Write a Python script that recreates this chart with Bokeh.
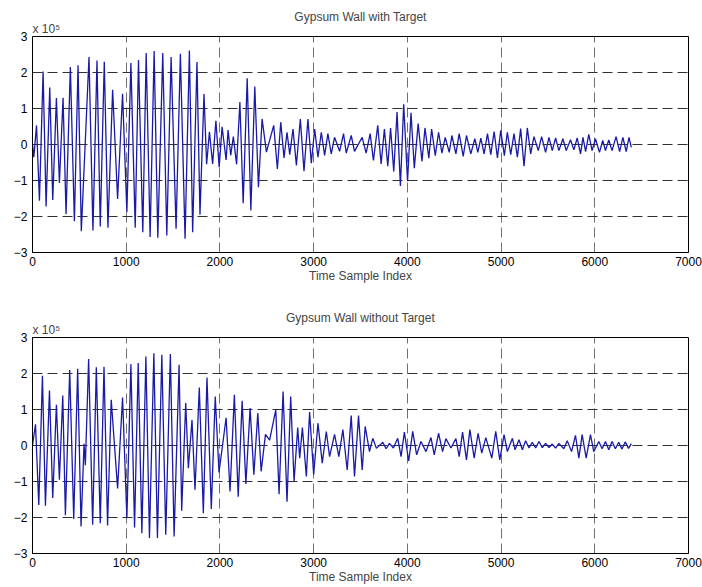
from bokeh.plotting import figure
from bokeh.layouts import column
from bokeh.models import FixedTicker, Range1d, Title
from bokeh.embed import file_html
from bokeh.resources import INLINE

# Extrema (sample index, amplitude in units of 1e5)
top_idx = [0, 14, 43, 74, 113, 145, 184, 216, 255, 287, 326, 358, 404, 447, 486, 521, 603, 645, 688, 723,
           766, 805, 855, 908, 961, 1007, 1050, 1096, 1131, 1177, 1213, 1255, 1298, 1337, 1390, 1433, 1479, 1532, 1578, 1628,
           1674, 1709, 1755, 1787, 1830, 1858, 1888, 1922, 1957, 1992, 2023, 2066, 2087, 2115, 2143, 2178, 2213, 2248, 2291, 2330,
           2372, 2411, 2450, 2496, 2574, 2613, 2649, 2684, 2716, 2745, 2780, 2816, 2858, 2897, 2939, 2975, 3011, 3046, 3082, 3117,
           3152, 3188, 3223, 3277, 3319, 3348, 3401, 3436, 3518, 3560, 3603, 3638, 3684, 3720, 3755, 3791, 3821, 3855, 3890, 3926,
           3961, 4002, 4039, 4074, 4115, 4156, 4188, 4229, 4259, 4298, 4333, 4369, 4404, 4447, 4475, 4518, 4553, 4596, 4631, 4677,
           4720, 4752, 4784, 4819, 4855, 4890, 4926, 4961, 4996, 5035, 5067, 5103, 5138, 5174, 5209, 5245, 5280, 5316, 5351, 5397,
           5433, 5475, 5511, 5546, 5582, 5617, 5660, 5695, 5741, 5777, 5812, 5848, 5874, 5902, 5936, 5971, 6007, 6050, 6085, 6114,
           6149, 6184, 6227, 6265, 6300, 6335, 6365, 6390]
top_val = [0.0, -0.35, 0.53, -1.56, 2.03, -1.72, 1.58, -1.54, 1.29, -1.07, 1.30, -1.93, 2.15, -2.13, 2.20, -2.41, 2.43, -2.39, 2.33, -2.28,
           2.30, -2.31, 1.52, -1.51, 1.41, -1.88, 2.26, -2.31, 2.35, -2.44, 2.54, -2.57, 2.60, -2.59, 2.54, -2.53, 2.43, -2.34, 2.52, -2.62,
           2.61, -2.44, 2.29, -1.95, 1.40, -0.55, 0.35, -0.54, 0.66, -0.63, 0.49, -0.43, 0.40, -0.30, 0.22, -0.55, 1.18, -1.63, 1.84, -1.83,
           1.61, -1.19, 0.71, -0.21, 0.53, -0.68, 0.62, -0.37, 0.34, -0.28, 0.43, -0.58, 0.71, -0.74, 0.71, -0.52, 0.43, -0.35, 0.34, -0.30,
           0.30, -0.26, 0.20, -0.19, 0.30, -0.24, 0.25, -0.19, 0.20, -0.24, 0.30, -0.44, 0.53, -0.54, 0.43, -0.60, 0.46, -0.75, 0.90, -1.15,
           1.12, -1.02, 0.88, -0.66, 0.58, -0.47, 0.46, -0.38, 0.43, -0.31, 0.34, -0.24, 0.20, -0.22, 0.25, -0.26, 0.30, -0.33, 0.25, -0.26,
           0.16, -0.22, 0.18, -0.26, 0.30, -0.28, 0.36, -0.37, 0.39, -0.31, 0.34, -0.28, 0.30, -0.35, 0.44, -0.60, 0.46, -0.26, 0.22, -0.17,
           0.22, -0.22, 0.20, -0.17, 0.18, -0.17, 0.16, -0.17, 0.13, -0.15, 0.18, -0.26, 0.20, -0.20, 0.28, -0.17, 0.16, -0.22, 0.11, -0.17,
           0.13, -0.17, 0.22, -0.20, 0.20, -0.20, 0.20, -0.08]

bot_idx = [0, 32, 67, 106, 138, 181, 216, 255, 287, 323, 351, 397, 440, 482, 518, 550, 564, 599, 642, 681,
           723, 763, 801, 840, 908, 961, 1007, 1050, 1089, 1128, 1167, 1210, 1248, 1295, 1333, 1380, 1422, 1471, 1511, 1564,
           1592, 1635, 1663, 1702, 1734, 1780, 1823, 1862, 1908, 1950, 1990, 2066, 2108, 2154, 2195, 2237, 2277, 2322, 2362, 2404,
           2440, 2486, 2530, 2596, 2631, 2674, 2716, 2755, 2791, 2830, 2851, 2880, 2922, 2957, 3000, 3046, 3092, 3135, 3170, 3223,
           3269, 3312, 3358, 3401, 3436, 3479, 3518, 3550, 3596, 3631, 3670, 3738, 3773, 3809, 3851, 3897, 3933, 3968, 4014, 4057,
           4099, 4145, 4199, 4252, 4287, 4333, 4376, 4411, 4465, 4518, 4553, 4589, 4631, 4667, 4713, 4755, 4794, 4837, 4901, 4943,
           4986, 5032, 5067, 5121, 5149, 5191, 5227, 5262, 5298, 5333, 5369, 5404, 5440, 5475, 5511, 5546, 5582, 5617, 5670, 5706,
           5752, 5794, 5830, 5865, 5908, 5954, 5989, 6043, 6078, 6114, 6149, 6184, 6220, 6255, 6290, 6325, 6360, 6390]
bot_val = [0.0, 0.59, -1.65, 1.94, -1.67, 1.53, -1.46, 1.13, -0.95, 1.39, -1.94, 2.10, -2.04, 2.13, -2.25, 0.05, -0.55, 2.40, -2.20, 2.17,
           -2.16, 2.19, -2.22, 1.27, -1.19, 1.33, -2.02, 2.26, -2.28, 2.29, -2.44, 2.47, -2.57, 2.56, -2.57, 2.52, -2.48, 2.54, -2.53, 2.24,
           -1.81, 1.18, -0.63, 0.71, -1.23, 1.61, -1.88, 1.89, -1.76, 1.36, -0.75, 0.77, -1.28, 1.41, -1.42, 1.24, -1.07, 1.04, -0.81, 0.90,
           -0.72, 0.31, 0.15, 0.99, -1.35, 1.50, -1.56, 1.36, -1.00, 0.50, -0.35, 0.50, -0.86, 0.93, -0.81, 0.62, -0.49, 0.39, -0.31, 0.31,
           -0.31, 0.44, -0.68, 0.83, -0.86, 0.83, -0.68, 0.53, -0.17, 0.20, -0.08, 0.09, -0.09, 0.06, -0.07, 0.20, -0.31, 0.37, -0.43, 0.39,
           -0.26, 0.11, -0.17, 0.22, -0.26, 0.34, -0.17, 0.19, -0.07, 0.19, -0.31, 0.37, -0.40, 0.44, -0.35, 0.34, -0.21, 0.22, -0.35, 0.39,
           -0.40, 0.30, -0.17, 0.20, -0.12, 0.16, -0.12, 0.13, -0.07, 0.09, -0.07, 0.11, -0.06, 0.06, -0.06, 0.04, -0.07, 0.06, -0.09, 0.13,
           -0.17, 0.28, -0.35, 0.30, -0.35, 0.30, -0.17, 0.11, -0.09, 0.11, -0.12, 0.11, -0.09, 0.09, -0.10, 0.10, -0.08, 0.05]

x_ticks = [0, 1000, 2000, 3000, 4000, 5000, 6000, 7000]
y_ticks = [-3, -2, -1, 0, 1, 2, 3]
titles = ["Gypsum Wall with Target", "Gypsum Wall without Target"]
scale_label = "x 10\u2075"
xlabel = "Time Sample Index"
FONT = "Liberation Sans"
LINE = "#1a1aa8"


def make_panel(title, xs, ys, h, top_border, bottom_border):
    p = figure(width=702, height=h, output_backend="svg", toolbar_location=None,
               x_range=Range1d(0, 7000), y_range=Range1d(-3, 3),
               min_border_left=32, min_border_right=14,
               min_border_top=top_border, min_border_bottom=bottom_border)
    # exponent label (closest to the frame), then the centred title
    p.add_layout(Title(text=scale_label, align="left", text_font=FONT, text_font_size="12px",
                       text_font_style="normal", standoff=2), "above")
    p.add_layout(Title(text=title, align="center", text_font=FONT, text_font_size="12px",
                       text_font_style="normal", standoff=-11), "above")
    p.outline_line_color = "black"
    p.outline_line_alpha = 1
    p.background_fill_color = "white"
    p.border_fill_color = "white"

    for ax in (p.xaxis[0], p.yaxis[0]):
        ax.axis_line_color = "black"
        ax.major_tick_in = 0
        ax.major_tick_out = 0
        ax.minor_tick_line_color = None
        ax.major_label_text_font = FONT
        ax.major_label_text_font_size = "12px"
        ax.major_label_text_color = "black"
    p.xaxis[0].ticker = FixedTicker(ticks=x_ticks)
    p.yaxis[0].ticker = FixedTicker(ticks=y_ticks)
    p.xaxis[0].major_label_standoff = 4
    p.yaxis[0].major_label_standoff = 5
    p.xaxis[0].axis_label = xlabel
    p.xaxis[0].axis_label_text_font = FONT
    p.xaxis[0].axis_label_text_font_size = "12px"
    p.xaxis[0].axis_label_text_font_style = "normal"
    p.xaxis[0].axis_label_standoff = 0

    p.xgrid.ticker = FixedTicker(ticks=x_ticks)
    p.ygrid.ticker = FixedTicker(ticks=y_ticks)
    p.xgrid.grid_line_color = "#707070"
    p.xgrid.grid_line_dash = "10 5"
    p.ygrid.grid_line_color = "#303030"
    p.ygrid.grid_line_dash = "10 5"

    p.line(xs, ys, line_color=LINE, line_width=1.3)
    return p


p1 = make_panel(titles[0], top_idx, top_val, 290, 36, 38)
p2 = make_panel(titles[1], bot_idx, bot_val, 297, 47, 34)
layout = column(p1, p2, spacing=0)

open("out.html", "w").write(file_html(layout, INLINE))
